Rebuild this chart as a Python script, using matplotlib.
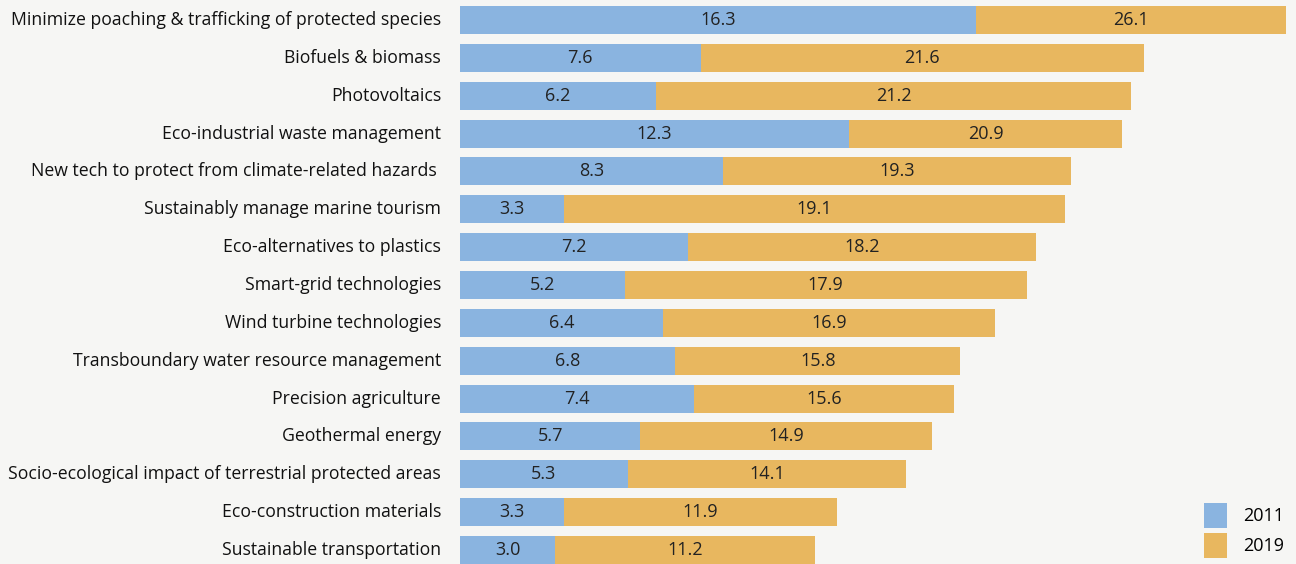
import matplotlib.pyplot as plt

categories = ['Minimize poaching & trafficking of protected species', 'Biofuels & biomass',
              'Photovoltaics', 'Eco-industrial waste management',
              'New tech to protect from climate-related hazards ', 'Sustainably manage marine tourism',
              'Eco-alternatives to plastics', 'Smart-grid technologies', 'Wind turbine technologies',
              'Transboundary water resource management', 'Precision agriculture', 'Geothermal energy',
              'Socio-ecological impact of terrestrial protected areas', 'Eco-construction materials',
              'Sustainable transportation']
v2011 = [16.3, 7.6, 6.2, 12.3, 8.3, 3.3, 7.2, 5.2, 6.4, 6.8, 7.4, 5.7, 5.3, 3.3, 3.0]
v2019 = [26.1, 21.6, 21.2, 20.9, 19.3, 19.1, 18.2, 17.9, 16.9, 15.8, 15.6, 14.9, 14.1, 11.9, 11.2]

bg = '#f6f6f4'
blue = '#8ab4e0'
orange = '#e8b75f'
plt.rcParams['font.family'] = ['Open Sans', 'DejaVu Sans']

fig = plt.figure(figsize=(12.96, 5.64), dpi=100, facecolor=bg)
ax = fig.add_axes([460/1296, 0, 836/1296, 1], facecolor=bg)
y = range(len(categories))
ax.barh(y, v2019, height=0.74, color=orange, label='2019')
ax.barh(y, v2011, height=0.74, color=blue, label='2011')
for i in y:
    ax.text(v2011[i]/2, i, f'{v2011[i]:.1f}', ha='center', va='center', fontsize=13, color='#222222')
    ax.text((v2011[i]+v2019[i])/2, i, f'{v2019[i]:.1f}', ha='center', va='center', fontsize=13, color='#222222')
    ax.text(-0.6, i, categories[i], ha='right', va='center', fontsize=12.7, color='#111111')
ax.set_xlim(0, 836/31.66)
ax.set_ylim(14.37, -0.528)
ax.axis('off')
h, l = ax.get_legend_handles_labels()
fig.legend(h[::-1], l[::-1], loc='lower right', bbox_to_anchor=(1.003, -0.018), frameon=False,
           fontsize=13, handlelength=1.3, handleheight=1.75, labelspacing=0.3, handletextpad=0.85)
fig.savefig('out.png', dpi=100, facecolor=bg)
